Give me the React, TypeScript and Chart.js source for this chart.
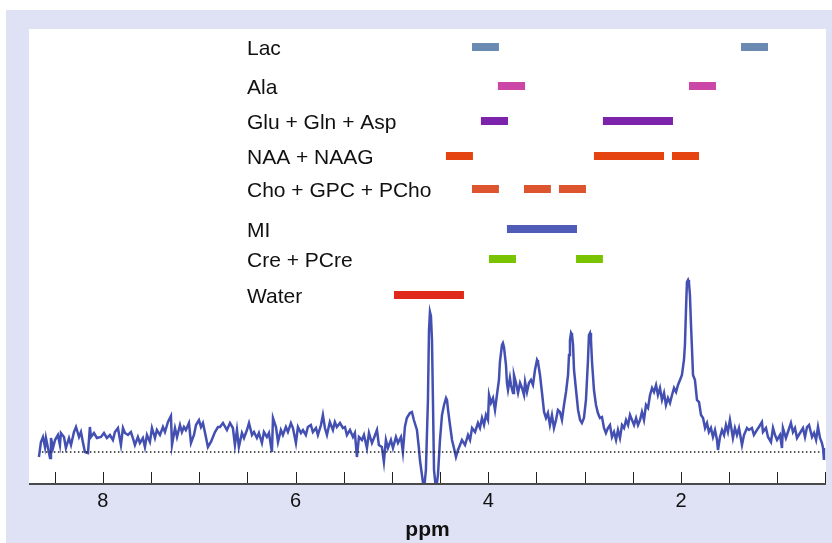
import React, { useEffect, useRef } from "react";
import { Chart, registerables } from "chart.js";

Chart.register(...registerables);

// ---- Spectrum (chemical shift in ppm, intensity in arbitrary units; 0 = baseline) ----
const ppmAxis: number[] = [
  8.663, 8.642, 8.621, 8.6, 8.59, 8.569, 8.548, 8.538, 8.517, 8.496,
  8.466, 8.445, 8.435, 8.403, 8.383, 8.351, 8.33, 8.299, 8.278, 8.247,
  8.227, 8.207, 8.186, 8.154, 8.134, 8.123, 8.092, 8.061, 8.019, 7.988,
  7.958, 7.926, 7.895, 7.874, 7.843, 7.812, 7.791, 7.77, 7.739, 7.708,
  7.688, 7.667, 7.636, 7.615, 7.584, 7.563, 7.542, 7.511, 7.49, 7.459,
  7.439, 7.407, 7.376, 7.355, 7.324, 7.293, 7.282, 7.251, 7.23, 7.199,
  7.179, 7.158, 7.138, 7.106, 7.085, 7.054, 7.033, 7.002, 6.981, 6.961,
  6.941, 6.909, 6.878, 6.857, 6.836, 6.805, 6.784, 6.753, 6.712, 6.68,
  6.65, 6.629, 6.608, 6.588, 6.556, 6.535, 6.504, 6.483, 6.452, 6.431,
  6.401, 6.38, 6.349, 6.328, 6.297, 6.276, 6.245, 6.234, 6.203, 6.182,
  6.152, 6.131, 6.1, 6.079, 6.048, 6.027, 5.996, 5.975, 5.944, 5.923,
  5.893, 5.872, 5.841, 5.82, 5.788, 5.768, 5.736, 5.716, 5.695, 5.674,
  5.644, 5.612, 5.592, 5.571, 5.539, 5.508, 5.487, 5.467, 5.435, 5.404,
  5.384, 5.363, 5.342, 5.311, 5.29, 5.259, 5.238, 5.207, 5.186, 5.155,
  5.135, 5.104, 5.083, 5.062, 5.041, 5.01, 4.989, 4.958, 4.937, 4.906,
  4.886, 4.865, 4.845, 4.813, 4.792, 4.772, 4.74, 4.72, 4.709, 4.688,
  4.667, 4.647, 4.626, 4.615, 4.605, 4.595, 4.584, 4.574, 4.563, 4.542,
  4.532, 4.522, 4.501, 4.48, 4.459, 4.438, 4.428, 4.417, 4.397, 4.376,
  4.356, 4.335, 4.314, 4.293, 4.273, 4.241, 4.21, 4.189, 4.168, 4.137,
  4.107, 4.086, 4.065, 4.044, 4.024, 4.003, 3.992, 3.972, 3.951, 3.93,
  3.91, 3.889, 3.879, 3.858, 3.848, 3.837, 3.816, 3.806, 3.795, 3.775,
  3.764, 3.743, 3.733, 3.712, 3.691, 3.67, 3.65, 3.629, 3.618, 3.598,
  3.578, 3.557, 3.536, 3.515, 3.494, 3.484, 3.463, 3.442, 3.421, 3.401,
  3.381, 3.36, 3.339, 3.318, 3.297, 3.277, 3.256, 3.235, 3.214, 3.193,
  3.172, 3.162, 3.152, 3.141, 3.131, 3.12, 3.11, 3.089, 3.068, 3.047,
  3.028, 3.007, 2.986, 2.965, 2.955, 2.944, 2.934, 2.923, 2.903, 2.882,
  2.862, 2.841, 2.82, 2.799, 2.779, 2.758, 2.737, 2.716, 2.695, 2.674,
  2.654, 2.633, 2.612, 2.591, 2.57, 2.549, 2.529, 2.508, 2.487, 2.466,
  2.446, 2.425, 2.405, 2.384, 2.363, 2.342, 2.321, 2.3, 2.28, 2.259,
  2.239, 2.218, 2.197, 2.176, 2.156, 2.135, 2.114, 2.093, 2.072, 2.051,
  2.031, 2.01, 1.99, 1.969, 1.959, 1.948, 1.938, 1.927, 1.917, 1.907,
  1.896, 1.886, 1.875, 1.855, 1.834, 1.813, 1.792, 1.771, 1.75, 1.73,
  1.71, 1.689, 1.668, 1.647, 1.626, 1.616, 1.595, 1.574, 1.553, 1.533,
  1.513, 1.492, 1.471, 1.461, 1.44, 1.419, 1.398, 1.367, 1.346, 1.315,
  1.295, 1.264, 1.243, 1.212, 1.191, 1.16, 1.149, 1.118, 1.097, 1.066,
  1.045, 1.024, 1.003, 0.972, 0.952, 0.942, 0.911, 0.89, 0.859, 0.838,
  0.817, 0.796, 0.765, 0.734, 0.713, 0.692, 0.671, 0.64, 0.619, 0.598,
  0.578, 0.557, 0.537, 0.526, 0.516,
];

const intensity: number[] = [
  -5, 10, 15, 5, 14, 4, -6, 14, 4, 12,
  17, 7, 19, 15, 4, 14, 7, 20, 25, 15,
  20, 10, 0, -1, 25, 15, 19, 14, 15, 19,
  14, 17, 12, 20, 24, 7, 24, 19, 17, 20,
  14, 7, 15, 9, 14, 5, 17, 10, 24, 14,
  22, 17, 25, 20, 30, 36, 7, 24, 15, 27,
  20, 25, 22, 29, 9, 17, 27, 32, 25, 29,
  20, 5, 10, 15, 20, 25, 25, 29, 22, 29,
  24, 7, 22, 5, 19, 14, 22, 29, 17, 20,
  14, 19, 9, 20, 15, 19, 0, 34, 25, 10,
  22, 17, 25, 20, 29, 24, 9, 25, 19, 22,
  17, 25, 27, 20, 24, 17, 27, 37, 24, 17,
  30, 22, 30, 25, 29, 24, 25, 17, 22, 15,
  19, -5, 15, 12, 17, 4, 19, 9, 14, 22,
  7, 5, -10, 12, 4, 12, 4, 15, 9, 15,
  0, 25, 34, 39, 40, 32, 22, 4, -8, -23,
  -38, -18, 52, 122, 140, 136, 112, 52, -18, -38,
  -38, -23, 12, 37, 47, 54, 52, 42, 27, 12,
  4, -5, 2, 7, 12, 7, 17, 12, 24, 20,
  29, 24, 34, 27, 37, 32, 57, 49, 54, 42,
  57, 72, 90, 107, 109, 105, 87, 69, 62, 74,
  67, 59, 77, 69, 59, 69, 64, 57, 70, 60,
  69, 72, 67, 82, 92, 90, 77, 59, 40, 34,
  39, 27, 37, 24, 32, 42, 40, 32, 47, 60,
  77, 97, 112, 119, 117, 107, 82, 62, 42, 32,
  29, 34, 52, 92, 117, 119, 112, 90, 62, 47,
  39, 34, 35, 24, 19, 24, 27, 15, 20, 12,
  22, 14, 27, 24, 32, 27, 37, 32, 27, 34,
  27, 32, 40, 32, 47, 44, 57, 64, 60, 67,
  57, 64, 52, 59, 47, 54, 49, 57, 64, 60,
  67, 72, 77, 92, 107, 142, 170, 172, 169, 157,
  127, 104, 77, 72, 52, 50, 37, 34, 24, 29,
  20, 24, 15, 22, 12, 2, 15, 22, 17, 27,
  20, 32, 20, 14, 24, 17, 24, 7, 17, 24,
  22, 24, 17, 22, 25, 30, 20, 24, 15, 10,
  24, 17, 12, 17, 4, 24, 14, 20, 29, 20,
  24, 14, 19, 24, 15, 25, 27, 15, 19, 12,
  25, 14, 9, 4, -8,
];

// baseline (dotted) span in ppm
const baselineSpan: number[] = [8.632, 0.537];

// ---- Metabolite resonance ranges ----
const metaboliteNames: string[] = [
  "Lac",
  "Ala",
  "Glu + Gln + Asp",
  "NAA + NAAG",
  "Cho + GPC + PCho",
  "MI",
  "Cre + PCre",
  "Water",
];
// vertical row of each metabolite (same units as intensity)
const metaboliteRows: number[] = [405, 366, 331, 296, 263, 223, 193, 157];
// ppm ranges [start, end] per metabolite
const metaboliteRanges: number[][][] = [
  [[4.169, 3.889], [1.377, 1.097]],
  [[3.9, 3.618], [1.917, 1.637]],
  [[4.076, 3.795], [2.81, 2.083]],
  [[4.439, 4.159], [2.903, 2.176], [2.093, 1.813]],
  [[4.169, 3.889], [3.629, 3.35], [3.266, 2.986]],
  [[3.806, 3.079]],
  [[3.992, 3.712], [3.089, 2.81]],
  [[4.978, 4.252]],
];
const metaboliteColors: string[] = [
  "#6b8ab1",
  "#cc46a7",
  "#7b23aa",
  "#e5430f",
  "#dc552f",
  "#4f5cb8",
  "#79c300",
  "#e0291a",
];

// axis
const xMin = 0.495;
const xMax = 8.766;
const yMin = -32;
const yMax = 423;
const tickStep = 0.5;
const labelledTicks: number[] = [2, 4, 6, 8];

const FONT = '"Liberation Sans", Arial, Helvetica, sans-serif';
const LAVENDER = "#dfe2f4";

export default function App() {
  const canvasRef = useRef<HTMLCanvasElement | null>(null);

  useEffect(() => {
    document.body.style.margin = "0";
    const canvas = canvasRef.current;
    if (!canvas) return;

    const spectrum = ppmAxis.map((p, i) => ({ x: p, y: intensity[i] }));

    const barDatasets = metaboliteNames.map((name, i) => {
      const pts: { x: number; y: number | null }[] = [];
      metaboliteRanges[i].forEach(([a, b], k) => {
        if (k > 0) pts.push({ x: a, y: null });
        pts.push({ x: a, y: metaboliteRows[i] });
        pts.push({ x: b, y: metaboliteRows[i] });
      });
      return {
        label: name,
        data: pts,
        borderColor: metaboliteColors[i],
        backgroundColor: metaboliteColors[i],
        borderWidth: 8,
        borderCapStyle: "butt" as const,
        pointRadius: 0,
        spanGaps: false,
        tension: 0,
        order: 0,
      };
    });

    const decor = {
      id: "decor",
      beforeDraw(chart: any) {
        const { ctx, width, height, chartArea } = chart;
        ctx.save();
        ctx.fillStyle = "#ffffff";
        ctx.fillRect(0, 0, width, height);
        ctx.fillStyle = LAVENDER;
        ctx.fillRect(6, 10, width - 6, height - 10);
        ctx.fillStyle = "#ffffff";
        ctx.fillRect(
          chartArea.left,
          chartArea.top,
          chartArea.right - chartArea.left,
          chartArea.bottom - chartArea.top
        );
        ctx.restore();
      },
      afterDraw(chart: any) {
        const { ctx, chartArea } = chart;
        const xs = chart.scales.x;
        const ys = chart.scales.y;
        ctx.save();
        // axis line
        ctx.fillStyle = "#4a4a4a";
        ctx.fillRect(chartArea.left, chartArea.bottom - 1, chartArea.right - chartArea.left, 2);
        // inward tick marks
        ctx.strokeStyle = "#222";
        ctx.lineWidth = 1;
        xs.ticks.forEach((t: any) => {
          const v = t.value;
          if (Math.abs(v / tickStep - Math.round(v / tickStep)) > 1e-6) return;
          let px = Math.round(xs.getPixelForValue(v));
          if (px >= chartArea.right) px = chartArea.right - 1;
          ctx.beginPath();
          ctx.moveTo(px + 0.5, chartArea.bottom - 1);
          ctx.lineTo(px + 0.5, chartArea.bottom - 12);
          ctx.stroke();
        });
        // metabolite labels
        ctx.fillStyle = "#111";
        ctx.font = `21px ${FONT}`;
        ctx.textAlign = "left";
        ctx.textBaseline = "alphabetic";
        metaboliteNames.forEach((name, i) => {
          const py = ys.getPixelForValue(metaboliteRows[i]);
          ctx.fillText(name, chartArea.left + 218, py + 7.5);
        });
        ctx.restore();
      },
    };

    const chart = new Chart(canvas, {
      type: "line",
      data: {
        datasets: [
          {
            label: "spectrum",
            data: spectrum,
            borderColor: "#4350b2",
            borderWidth: 2.5,
            pointRadius: 0,
            tension: 0,
            order: 2,
          },
          {
            label: "baseline",
            data: baselineSpan.map((p) => ({ x: p, y: 0 })),
            borderColor: "#222",
            borderWidth: 1.5,
            borderDash: [1.5, 2.5],
            pointRadius: 0,
            order: 1,
          },
          ...barDatasets,
        ] as any,
      },
      options: {
        responsive: false,
        animation: false,
        events: [],
        layout: { padding: { left: 29, top: 29, right: 6, bottom: 0 } },
        plugins: {
          legend: { display: false },
          tooltip: { enabled: false },
          title: { display: false },
        },
        scales: {
          x: {
            type: "linear",
            reverse: true,
            min: xMin,
            max: xMax,
            grid: { display: false, drawTicks: false },
            border: { display: false },
            ticks: {
              stepSize: tickStep,
              includeBounds: false,
              autoSkip: false,
              maxRotation: 0,
              padding: 5,
              color: "#111",
              font: { family: FONT, size: 20 },
              callback: (v: any) =>
                labelledTicks.includes(Number(v)) ? String(v) : "",
            },
            title: {
              display: true,
              text: "ppm",
              color: "#111",
              font: { family: FONT, size: 21, weight: "bold" },
              padding: { top: 0, bottom: 0 },
            },
            afterFit: (s: any) => {
              s.height = 59;
            },
          },
          y: { display: false, min: yMin, max: yMax },
        },
      } as any,
      plugins: [decor],
    });

    return () => chart.destroy();
  }, []);

  return (
    <canvas
      ref={canvasRef}
      width={832}
      height={543}
      style={{ display: "block", width: 832, height: 543 }}
    />
  );
}
